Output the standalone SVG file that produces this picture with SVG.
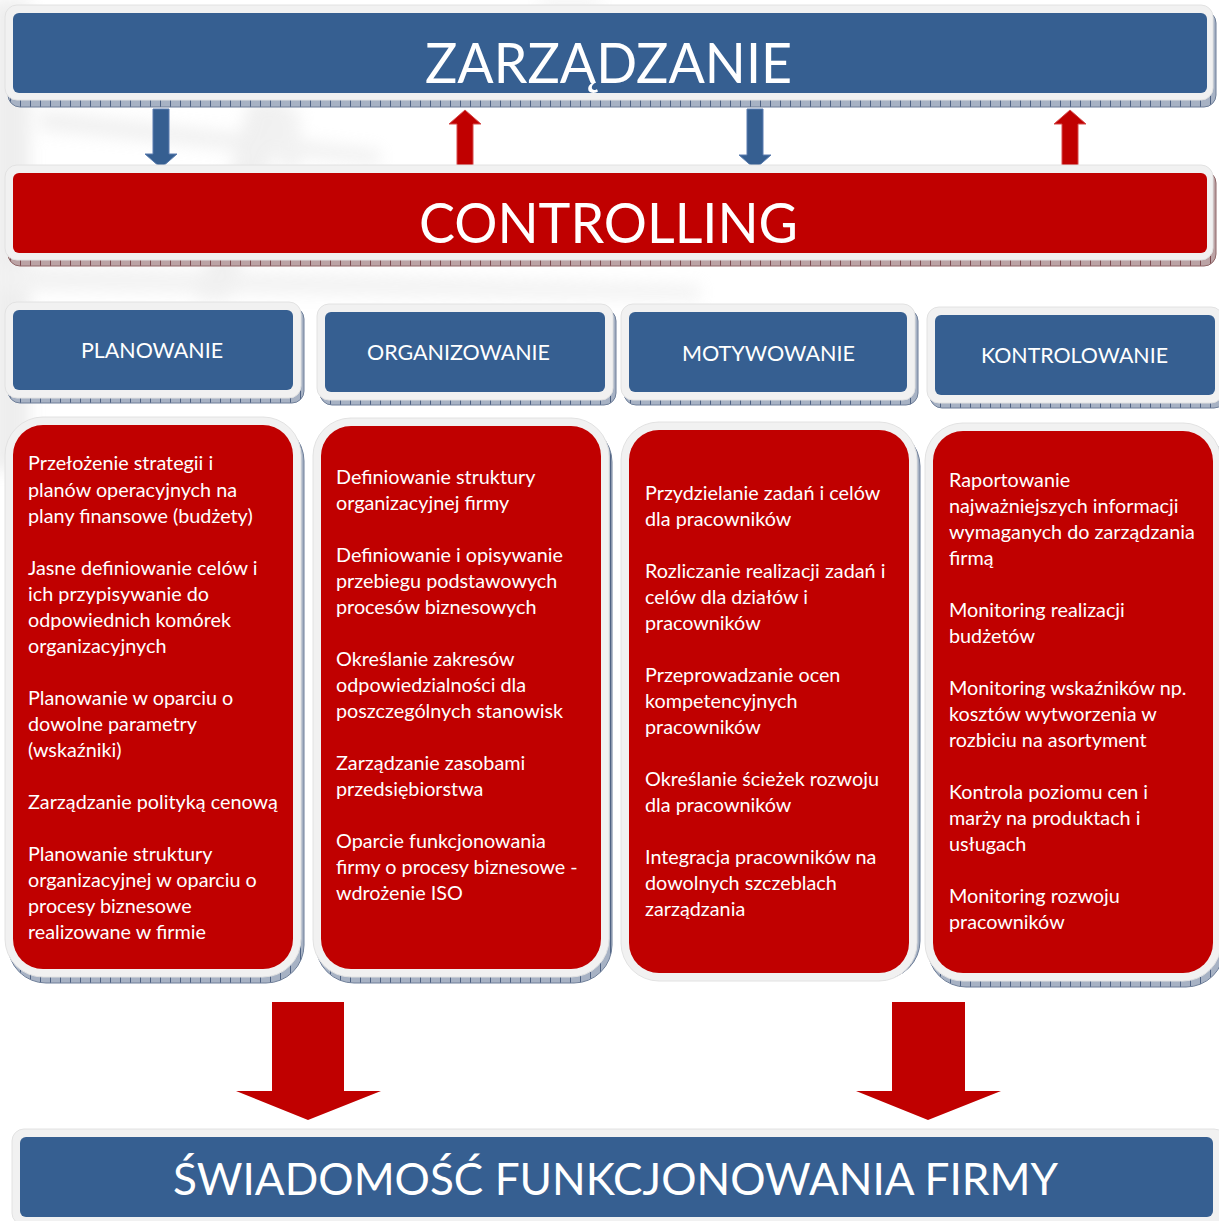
<svg xmlns="http://www.w3.org/2000/svg" width="1219" height="1221" viewBox="0 0 1219 1221">
  <defs>
    <style>
      .frame { fill: #f1f1f1; stroke: #e2e2e2; stroke-width: 1; }
      .blue { fill: #365f91; }
      .red { fill: #c00000; }
      .shB { fill: url(#hatchB); stroke: #6f7f99; stroke-width: 1; }
      .shR { fill: url(#hatchR); stroke: #8f6668; stroke-width: 1; }
      .title { font-family: Lato, "Liberation Sans", sans-serif; fill: #ffffff; }
      .head { font-family: Lato, "Liberation Sans", sans-serif; font-size: 21px; fill: #ffffff; text-anchor: middle; }
      .body { font-family: Lato, "Liberation Sans", sans-serif; font-size: 19.8px; fill: #ffffff; }
      .arB { fill: #365f91; stroke: #5a7db0; stroke-width: 1; }
      .arR { fill: #c00000; stroke: #d64a4a; stroke-width: 1; }
      .arBig { fill: #c00000; }
    </style>
    <pattern id="hatchB" width="10" height="8" patternUnits="userSpaceOnUse">
      <rect width="10" height="8" fill="#a7b2c4"/>
      <path d="M0.5 0V8" stroke="#4f6283" stroke-width="1"/>
    </pattern>
    <pattern id="hatchR" width="10" height="8" patternUnits="userSpaceOnUse">
      <rect width="10" height="8" fill="#bba3a5"/>
      <path d="M0.5 0V8" stroke="#7d4b50" stroke-width="1"/>
    </pattern>
    <filter id="haze" x="-20%" y="-20%" width="140%" height="140%">
      <feGaussianBlur stdDeviation="8"/>
    </filter>
  </defs>

  <rect width="1219" height="1221" fill="#ffffff"/>

  <!-- faded backdrop photo behind the upper part -->
  <g filter="url(#haze)" opacity="0.3">
    <rect x="-10" y="0" width="40" height="470" fill="#c8c8c8"/>
    <path d="M40 110 L380 150 L380 165 L40 130 Z" fill="#d0d0d0"/>
    <path d="M0 265 L700 285 L700 300 L0 290 Z" fill="#d6d6d6"/>
    <path d="M250 100 L290 100 L230 300 L195 300 Z" fill="#cfcfcf"/>
    <path d="M540 0 L600 0 L600 10 L540 10 Z" fill="#cfcfcf"/>
    <path d="M280 110 L300 110 L300 170 L280 170 Z" fill="#d4d4d4"/>
  </g>

  <!-- connectors -->
  <g id="connectors">
    <polygon class="arB" points="153,109 169,109 169,154 177,154 161,168 145,154 153,154"/>
    <polygon class="arR" points="465,110 481,124 473,124 473,169 457,169 457,124 449,124"/>
    <polygon class="arB" points="747,109 763,109 763,155 771,155 755,169 739,155 747,155"/>
    <polygon class="arR" points="1070,110 1086,124 1078,124 1078,169 1062,169 1062,124 1054,124"/>
    <polygon class="arBig" points="272,1002 344,1002 344,1091 381,1091 308,1120 236,1091 272,1091"/>
    <polygon class="arBig" points="892,1002 965,1002 965,1091 1001,1091 928,1120 856,1091 892,1091"/>
  </g>

  <!-- management bar -->
  <g id="zarzadzanie">
    <rect class="shB" x="8" y="11" width="1208" height="96" rx="12"/>
    <rect class="frame" x="5" y="5" width="1208" height="95" rx="12"/>
    <rect class="blue" x="13" y="13" width="1194" height="80" rx="6"/>
    <text class="title" x="608.5" y="83" font-size="56" text-anchor="middle" textLength="367" lengthAdjust="spacingAndGlyphs">ZARZĄDZANIE</text>
  </g>

  <!-- controlling bar -->
  <g id="controlling">
    <rect class="shR" x="8" y="171" width="1208" height="95" rx="12"/>
    <rect class="frame" x="5" y="165" width="1208" height="95" rx="12"/>
    <rect class="red" x="13" y="173" width="1194" height="80" rx="6"/>
    <text class="title" x="608.5" y="243" font-size="57" text-anchor="middle" textLength="379" lengthAdjust="spacingAndGlyphs">CONTROLLING</text>
  </g>

  <!-- column headers -->
  <g id="planowanie">
    <rect class="shB" x="8" y="307" width="296" height="96" rx="12"/>
    <rect class="frame" x="5" y="302" width="296" height="96" rx="12"/>
    <rect class="blue" x="13" y="310" width="280" height="80" rx="6"/>
    <text class="head" x="152" y="358" textLength="142" lengthAdjust="spacingAndGlyphs">PLANOWANIE</text>
  </g>
  <g id="organizowanie">
    <rect class="shB" x="320" y="309" width="296" height="96" rx="12"/>
    <rect class="frame" x="317" y="304" width="296" height="96" rx="12"/>
    <rect class="blue" x="325" y="312" width="280" height="80" rx="6"/>
    <text class="head" x="458.5" y="360" textLength="183" lengthAdjust="spacingAndGlyphs">ORGANIZOWANIE</text>
  </g>
  <g id="motywowanie">
    <rect class="shB" x="624" y="309" width="294" height="96" rx="12"/>
    <rect class="frame" x="621" y="304" width="294" height="96" rx="12"/>
    <rect class="blue" x="629" y="312" width="278" height="80" rx="6"/>
    <text class="head" x="768.5" y="361" textLength="173" lengthAdjust="spacingAndGlyphs">MOTYWOWANIE</text>
  </g>
  <g id="kontrolowanie">
    <rect class="shB" x="930" y="312" width="296" height="96" rx="12"/>
    <rect class="frame" x="927" y="307" width="296" height="96" rx="12"/>
    <rect class="blue" x="935" y="315" width="280" height="80" rx="6"/>
    <text class="head" x="1074.5" y="363" textLength="187" lengthAdjust="spacingAndGlyphs">KONTROLOWANIE</text>
  </g>

  <!-- task lists -->
  <g id="planowanie-lista">
    <rect class="shB" x="8" y="423" width="296" height="560" rx="38"/>
    <rect class="frame" x="5" y="417" width="296" height="560" rx="38"/>
    <rect class="red" x="13" y="425" width="280" height="544" rx="30"/>
    <text class="body" x="28" y="470">Przełożenie strategii i</text>
    <text class="body" x="28" y="497">planów operacyjnych na</text>
    <text class="body" x="28" y="523">plany finansowe (budżety)</text>
    <text class="body" x="28" y="575">Jasne definiowanie celów i</text>
    <text class="body" x="28" y="601">ich przypisywanie do</text>
    <text class="body" x="28" y="627">odpowiednich komórek</text>
    <text class="body" x="28" y="653">organizacyjnych</text>
    <text class="body" x="28" y="705">Planowanie w oparciu o</text>
    <text class="body" x="28" y="731">dowolne parametry</text>
    <text class="body" x="28" y="757">(wskaźniki)</text>
    <text class="body" x="28" y="809">Zarządzanie polityką cenową</text>
    <text class="body" x="28" y="861">Planowanie struktury</text>
    <text class="body" x="28" y="887">organizacyjnej w oparciu o</text>
    <text class="body" x="28" y="913">procesy biznesowe</text>
    <text class="body" x="28" y="939">realizowane w firmie</text>
  </g>
  <g id="organizowanie-lista">
    <rect class="shB" x="316" y="424" width="296" height="559" rx="38"/>
    <rect class="frame" x="313" y="418" width="296" height="559" rx="38"/>
    <rect class="red" x="321" y="426" width="280" height="543" rx="30"/>
    <text class="body" x="336" y="484">Definiowanie struktury</text>
    <text class="body" x="336" y="510">organizacyjnej firmy</text>
    <text class="body" x="336" y="562">Definiowanie i opisywanie</text>
    <text class="body" x="336" y="588">przebiegu podstawowych</text>
    <text class="body" x="336" y="614">procesów biznesowych</text>
    <text class="body" x="336" y="666">Określanie zakresów</text>
    <text class="body" x="336" y="692">odpowiedzialności dla</text>
    <text class="body" x="336" y="718">poszczególnych stanowisk</text>
    <text class="body" x="336" y="770">Zarządzanie zasobami</text>
    <text class="body" x="336" y="796">przedsiębiorstwa</text>
    <text class="body" x="336" y="848">Oparcie funkcjonowania</text>
    <text class="body" x="336" y="874">firmy o procesy biznesowe -</text>
    <text class="body" x="336" y="900">wdrożenie ISO</text>
  </g>
  <g id="motywowanie-lista">
    <rect class="shB" x="624" y="428" width="296" height="551" rx="38"/>
    <rect class="frame" x="621" y="422" width="296" height="559" rx="38"/>
    <rect class="red" x="629" y="430" width="280" height="543" rx="30"/>
    <text class="body" x="645" y="500">Przydzielanie zadań i celów</text>
    <text class="body" x="645" y="526">dla pracowników</text>
    <text class="body" x="645" y="578">Rozliczanie realizacji zadań i</text>
    <text class="body" x="645" y="604">celów dla działów i</text>
    <text class="body" x="645" y="630">pracowników</text>
    <text class="body" x="645" y="682">Przeprowadzanie ocen</text>
    <text class="body" x="645" y="708">kompetencyjnych</text>
    <text class="body" x="645" y="734">pracowników</text>
    <text class="body" x="645" y="786">Określanie ścieżek rozwoju</text>
    <text class="body" x="645" y="812">dla pracowników</text>
    <text class="body" x="645" y="864">Integracja pracowników na</text>
    <text class="body" x="645" y="890">dowolnych szczeblach</text>
    <text class="body" x="645" y="916">zarządzania</text>
  </g>
  <g id="kontrolowanie-lista">
    <rect class="shB" x="928" y="429" width="296" height="558" rx="38"/>
    <rect class="frame" x="925" y="423" width="296" height="558" rx="38"/>
    <rect class="red" x="933" y="431" width="280" height="542" rx="30"/>
    <text class="body" x="949" y="487">Raportowanie</text>
    <text class="body" x="949" y="513">najważniejszych informacji</text>
    <text class="body" x="949" y="539">wymaganych do zarządzania</text>
    <text class="body" x="949" y="565">firmą</text>
    <text class="body" x="949" y="617">Monitoring realizacji</text>
    <text class="body" x="949" y="643">budżetów</text>
    <text class="body" x="949" y="695">Monitoring wskaźników np.</text>
    <text class="body" x="949" y="721">kosztów wytworzenia w</text>
    <text class="body" x="949" y="747">rozbiciu na asortyment</text>
    <text class="body" x="949" y="799">Kontrola poziomu cen i</text>
    <text class="body" x="949" y="825">marży na produktach i</text>
    <text class="body" x="949" y="851">usługach</text>
    <text class="body" x="949" y="903">Monitoring rozwoju</text>
    <text class="body" x="949" y="929">pracowników</text>
  </g>

  <!-- outcome bar -->
  <g id="swiadomosc">
    <rect class="frame" x="12" y="1129" width="1214" height="96" rx="12"/>
    <rect class="blue" x="20" y="1137" width="1193" height="80" rx="6"/>
    <text class="title" x="615.5" y="1195" font-size="45" text-anchor="middle" textLength="885" lengthAdjust="spacingAndGlyphs">ŚWIADOMOŚĆ FUNKCJONOWANIA FIRMY</text>
  </g>
</svg>
